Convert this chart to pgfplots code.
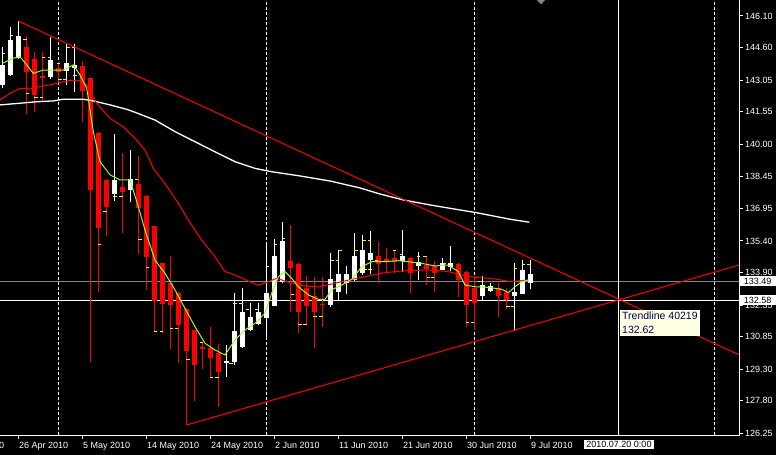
\documentclass[border=0pt]{standalone}
\usepackage{pgfplots}
\pgfplotsset{compat=1.18}
\usepackage{pgfplotstable}
\usepackage{fontspec}
\setmainfont{Liberation Sans}

\definecolor{mtred}{RGB}{255,0,0}
\definecolor{mtgreen}{RGB}{150,250,40}
\definecolor{mtgray}{RGB}{119,136,153}
\definecolor{tipbg}{RGB}{255,255,225}
\definecolor{tipfg}{RGB}{0,0,96}

% bullish (white) candles: bar index, open, high, low, close
\pgfplotstableread{
i open high low close
0 142.82 144.61 142.67 143.77
1 143.29 145.56 143.25 144.96
2 144.09 145.86 144.05 145.15
6 143.18 145.12 143.10 144.01
8 143.48 144.77 142.82 143.88
9 143.64 144.77 142.50 143.77
14 137.63 140.49 137.31 138.30
16 137.82 139.73 137.27 138.35
28 129.58 130.45 128.94 129.67
29 129.65 132.94 129.50 131.11
30 130.37 133.15 130.30 132.02
31 131.16 132.43 131.11 131.77
32 131.45 132.43 131.40 132.02
33 131.72 135.21 130.69 132.91
34 132.32 135.49 132.30 134.68
35 133.46 136.29 133.40 135.40
41 132.35 134.81 132.24 133.59
42 132.98 134.99 132.54 133.83
43 133.38 134.21 132.86 133.83
44 133.54 135.76 133.50 134.68
45 133.89 135.68 133.78 134.97
46 134.49 135.87 133.83 134.84
50 134.44 135.92 133.92 134.68
52 134.21 134.86 133.54 134.41
55 134.02 134.60 134.00 134.33
56 134.17 135.16 133.98 134.36
60 132.78 133.73 132.59 133.30
61 133.02 133.38 132.97 133.26
64 132.79 134.33 131.13 132.95
65 132.89 134.49 132.87 134.02
66 133.41 134.49 133.10 133.83
}\bull

% bearish (red) candles
\pgfplotstableread{
i open high low close
3 144.63 145.15 141.44 143.45
4 144.07 144.40 141.55 142.34
5 143.25 144.37 142.07 143.15
7 143.64 143.90 142.97 143.45
10 143.72 143.96 141.07 142.53
11 143.16 143.20 129.65 137.82
12 140.55 140.58 132.98 136.03
13 138.30 138.35 135.65 137.03
15 137.96 139.60 135.79 137.71
17 138.11 139.44 134.78 136.98
18 137.54 137.58 133.06 134.65
19 136.11 136.13 131.08 132.56
20 134.35 134.37 131.03 132.41
21 133.38 134.68 130.27 132.35
22 132.94 132.97 129.61 131.40
23 132.17 132.20 126.64 130.18
24 131.16 131.18 127.80 129.51
25 130.37 130.58 129.29 130.24
26 130.31 131.29 128.86 129.84
27 130.08 130.50 127.51 129.18
36 134.44 136.16 132.03 134.13
37 134.30 134.35 131.00 132.03
38 133.15 133.73 131.39 132.30
39 132.78 133.67 130.29 132.03
40 132.40 133.67 131.29 132.34
47 134.68 135.36 133.38 134.30
48 134.52 135.05 133.86 134.41
49 134.57 134.97 133.89 134.41
51 134.59 134.63 132.94 133.89
53 134.24 134.65 133.30 134.05
54 134.21 134.44 132.98 133.89
57 134.30 134.33 132.72 133.54
58 133.94 133.97 131.29 132.35
59 133.17 133.73 131.16 132.46
62 133.15 133.38 131.77 132.78
63 132.96 133.15 132.15 132.59
}\bear

\pgfplotsset{
  candle/.style={only marks, mark=*, mark size=0pt, mark options={draw=none, fill=none},
    error bars/.cd, y dir=plus, y explicit, error mark=none},
}

\begin{document}
\begin{tikzpicture}
\path[fill=black, use as bounding box] (0,0) rectangle (776bp,455bp);
\begin{axis}[
  at={(0bp,19bp)}, anchor=south west,
  scale only axis, width=739bp, height=436bp,
  xmin=-0.3125, xmax=92.0625, ymin=126.119, ymax=146.861,
  axis x line*=bottom, axis y line*=right,
  axis line style={white, line width=1bp},
  tick align=outside, major tick length=3.5bp,
  tick style={white, line width=1bp},
  xtick={2,10,18,26,34,42,50,58,66},
  xticklabels={26 Apr 2010, 5 May 2010, 14 May 2010, 24 May 2010, 2 Jun 2010, 11 Jun 2010, 21 Jun 2010, 30 Jun 2010, 9 Jul 2010},
  ytick={126.25,127.80,129.30,130.85,132.35,133.90,135.40,136.95,138.45,140.00,141.55,143.05,144.60,146.10},
  yticklabels={126.25,127.80,129.30,130.85,132.35,133.90,135.40,136.95,138.45,140.00,141.55,143.05,144.60,146.10},
  tick label style={text=white, font=\fontsize{9bp}{10bp}\selectfont},
  xticklabel style={anchor=north west, inner sep=0pt, xshift=0.5bp, yshift=-2.5bp},
  yticklabel style={anchor=west, inner sep=0pt, xshift=2.5bp},
  clip mode=individual,
]
% period separators
\addplot[white, line width=1bp, dash pattern=on 3bp off 2bp] coordinates {(7,120) (7,150)};
\addplot[white, line width=1bp, dash pattern=on 3bp off 2bp] coordinates {(33,120) (33,150)};
\addplot[white, line width=1bp, dash pattern=on 3bp off 2bp] coordinates {(59,120) (59,150)};
\addplot[white, line width=1bp, dash pattern=on 3bp off 2bp] coordinates {(89,120) (89,150)};
% bid line and crosshair
\addplot[mtgray, line width=1bp] coordinates {(-1,133.49) (93,133.49)};
\addplot[white, line width=1bp] coordinates {(-1,132.58) (93,132.58)};
\addplot[white, line width=1bp] coordinates {(77.06,120) (77.06,150)};

% candles: wicks
\addplot[mtred, candle, error bar style={draw=mtred, line width=1bp}]
  table[x=i, y=low, y error plus expr=\thisrow{high}-\thisrow{low}] {\bear};
\addplot[white, candle, error bar style={draw=white, line width=1bp}]
  table[x=i, y=low, y error plus expr=\thisrow{high}-\thisrow{low}] {\bull};
% candles: bodies
\addplot[mtred, candle, error bar style={draw=mtred, line width=5bp}]
  table[x=i, y=close, y error plus expr=\thisrow{open}-\thisrow{close}] {\bear};
\addplot[white, candle, error bar style={draw=white, line width=5bp}]
  table[x=i, y=open, y error plus expr=\thisrow{close}-\thisrow{open}] {\bull};

% slow moving average (white)
\addplot[white, line width=1.3bp] coordinates {
(-0.31,141.87) (2.19,141.95) (4.28,142.02) (6.35,142.06) (7.6,142.14) (10.1,142.14)
(11.35,142.06) (13.44,141.87) (15.53,141.66) (16.56,141.52) (19.06,141.15) (21.56,140.60)
(24.06,140.12) (26.56,139.64) (29.06,139.17) (31.56,138.85) (33.65,138.69) (37.19,138.49)
(40.94,138.25) (44.69,137.92) (47.19,137.63) (50.1,137.35) (53.44,137.11) (59.28,136.74)
(63.44,136.43) (65.85,136.29)};
% medium moving average (red)
\addplot[mtred, line width=1bp] coordinates {
(-0.31,142.10) (0.94,142.42) (2.19,142.66) (3.44,142.63) (4.69,142.74) (5.94,142.82)
(7.19,142.93) (8.44,143.04) (9.69,143.04) (10.52,142.82) (11.78,141.95) (13.44,141.23)
(15.1,140.83) (16.56,140.28) (17.81,139.73) (18.85,138.85) (20.31,138.14) (21.98,137.19)
(23.23,136.39) (24.9,135.44) (26.56,134.65) (27.81,133.94) (29.06,133.78) (30.73,133.49)
(31.98,133.29) (32.81,133.40) (34.28,133.62) (35.94,133.41) (37.6,133.26) (39.44,133.21)
(41.15,133.35) (43.65,133.57) (45.73,133.73) (47.81,133.89) (49.9,133.97) (53.23,134.02)
(55.73,133.94) (58.23,133.70) (61.56,133.59) (63.44,133.46) (65.73,133.54)};
% fast moving average (green)
\addplot[mtgreen, line width=1bp] coordinates {
(0,143.85) (1.35,144.09) (2.19,144.16) (3.03,143.77) (3.85,143.37) (5.1,143.53) (6.35,143.53)
(7.6,143.53) (8.85,143.77) (9.69,143.29) (10.53,142.66) (11.35,140.60) (12.19,139.17)
(13.44,138.54) (14.69,138.30) (15.94,138.30) (16.98,137.03) (17.81,135.92) (19.06,134.49)
(20.31,133.86) (21.56,133.07) (22.81,132.19) (24.06,131.32) (25.31,130.53) (26.56,130.21)
(27.81,129.97) (29.06,130.69) (30.31,131.16) (31.56,131.48) (32.81,131.96) (33.65,132.91)
(34.48,133.70) (35.31,133.94) (36.15,133.62) (36.98,133.22) (38.23,132.83) (39.48,132.62)
(40.31,132.62) (41.15,133.07) (42.4,133.30) (43.65,133.57) (44.9,134.17) (46.15,134.41)
(47.81,134.41) (49.48,134.46) (50.73,134.41) (52.4,134.33) (54.06,134.21) (55.73,134.25)
(56.98,133.94) (57.81,133.30) (59.06,133.22) (60.72,133.19) (62.4,133.10) (63.23,132.94)
(64.06,133.22) (64.9,133.46) (65.73,133.54)};
% yellow level marks
\addplot[only marks, mark=-, mark size=1.6bp, yellow, mark options={line width=1bp}] coordinates {
(0.10,144.33) (1.15,145.17) (2.81,144.96) (3.125,142.42) (4.19,142.20) (4.90,142.20)
(5.10,144.14) (5.875,144.13) (6.975,143.85) (7.19,143.09) (7.81,143.09) (8.225,144.61)
(8.90,144.58) (9.06,143.29) (12.125,135.24) (12.81,136.82) (14.06,137.50) (14.81,137.50)
(16.775,138.30) (17.19,135.47) (18.09,134.14) (19.10,131.09) (19.85,131.09) (21.15,131.24)
(21.775,131.24) (23.19,129.77) (24.85,130.57) (26.15,128.91) (26.81,128.91) (28.56,129.56)
(29.06,132.43) (29.81,132.43) (30.6,132.15) (31.775,132.15) (33.15,134.17) (34.15,135.25)
(35.1,135.52) (36.225,132.83) (37.19,131.43) (37.81,131.43) (39.06,131.79) (39.81,131.79)
(41.225,134.46) (41.85,134.46) (42.275,134.93) (44.19,134.93) (45.225,135.44) (45.85,135.44)
(45.31,134.05) (45.94,134.05) (46.775,134.49) (47.81,134.44) (48.975,134.93) (49.9,134.76)
(51.975,134.65) (52.81,134.65) (53.225,133.66) (53.775,133.66) (55.225,134.33) (58.125,131.51)
(58.75,131.51) (59.69,133.49) (63.19,132.30) (63.81,132.30) (64.125,134.11) (65.125,134.30)
(65.75,134.30)};
% trend lines
\addplot[mtred, line width=1bp] coordinates {(2,145.86) (92.0625,129.98)};
\addplot[mtred, line width=1bp] coordinates {(23,126.64) (92.0625,134.25)};

% chart shift marker
\fill[mtgray] (axis cs:66.81,146.861) -- (axis cs:67.81,146.861) -- (axis cs:67.31,146.65) -- cycle;
% price labels on the scale
\node[fill=white, text=black, anchor=west, inner xsep=0pt, inner ysep=1.5bp, minimum width=37bp,
  font=\fontsize{9bp}{10bp}\selectfont] at (axis cs:92.0625,133.49) {133.49};
\node[fill=white, text=black, anchor=west, inner xsep=0pt, inner ysep=1.5bp, minimum width=37bp,
  font=\fontsize{9bp}{10bp}\selectfont] at (axis cs:92.0625,132.58) {132.58};
% crosshair time label
\node[fill=white, text=black, anchor=north, inner xsep=2.5bp, inner ysep=1.5bp, yshift=-3.5bp,
  font=\fontsize{9bp}{10bp}\selectfont] at (axis cs:77.06,126.119) {2010.07.20 0:00};
% partial label at the left edge
\node[text=white, anchor=north west, inner sep=0pt, xshift=0.5bp, yshift=-6bp,
  font=\fontsize{9bp}{10bp}\selectfont] at (axis cs:-6,126.119) {16 Apr 2010};
% tooltip
\node[fill=tipbg, text=tipfg, anchor=north west, align=left, inner xsep=2bp, inner ysep=2.5bp,
  xshift=1bp, yshift=-10bp, font=\fontsize{10.5bp}{14bp}\selectfont] at (axis cs:77.06,132.62)
  {Trendline 40219\\132.62};
\end{axis}
\end{tikzpicture}
\end{document}
